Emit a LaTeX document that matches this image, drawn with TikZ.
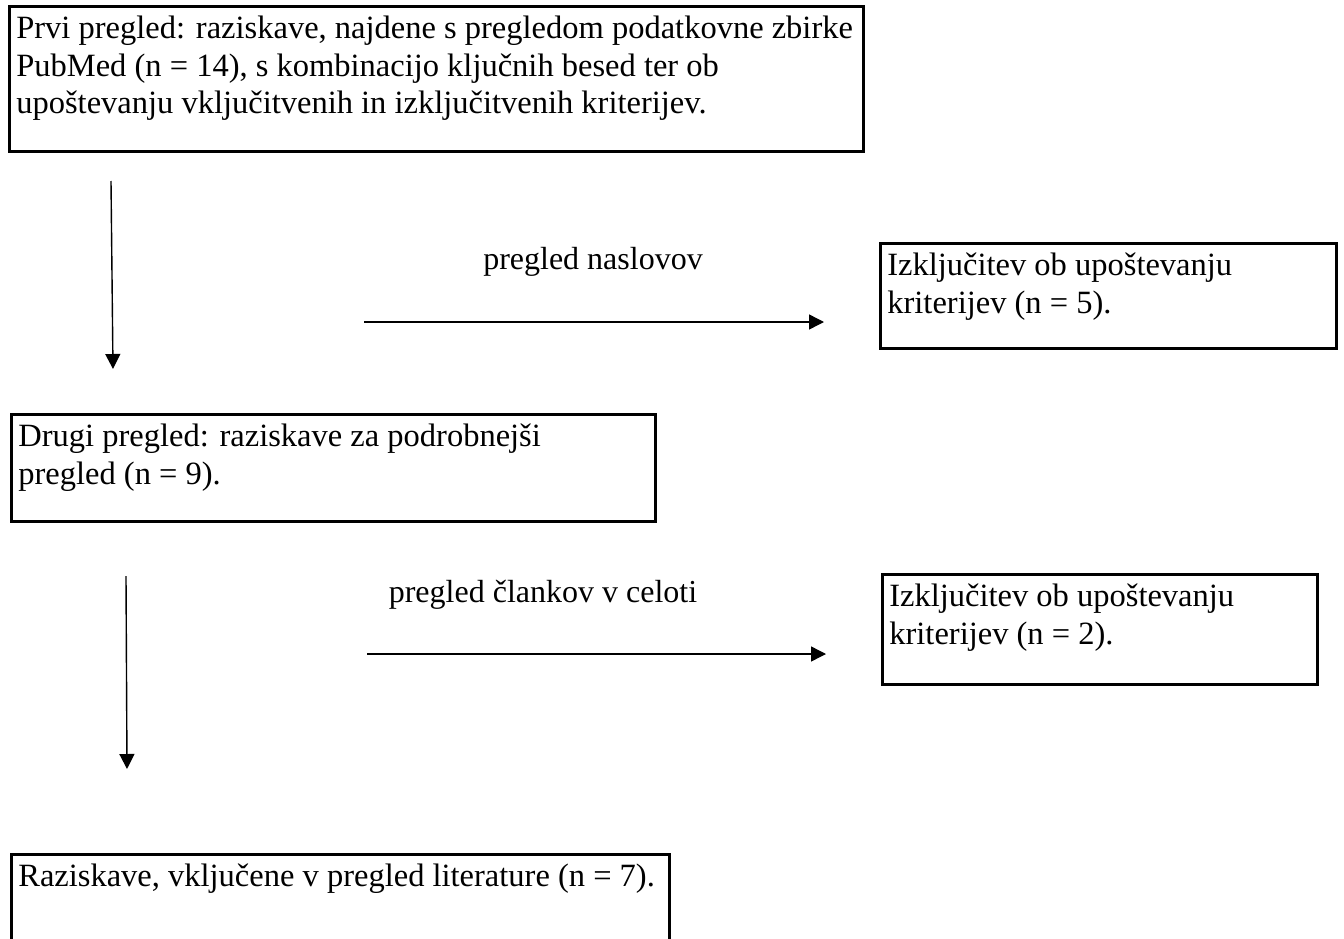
\documentclass[tikz,border=0pt]{standalone}
\usepackage{fontspec}
\setmainfont{Liberation Serif}
\usetikzlibrary{arrows.meta}
\newcommand\boxtxt[3]{\parbox[t][#2][t]{#1}{\raggedright #3}}
\begin{document}
\begin{tikzpicture}[x=1pt,y=-1pt,font=\fontsize{32.5}{37.5}\selectfont,
  box/.style={draw,line width=2.7pt,anchor=north west,inner xsep=7pt,inner ysep=10pt},
  lbl/.style={inner sep=0pt,font=\fontsize{32}{37}\selectfont},
  flow/.style={line width=1.4pt,-{Triangle[length=15pt,width=15pt]}}]
\useasboundingbox (0,0) rectangle (1344,939);
\clip (0,0) rectangle (1344,939);

\node[box] (b1) at (8,5) {\boxtxt{840pt}{125pt}{\mbox{Prvi pregled: raziskave, najdene s pregledom podatkovne zbirke}\\\mbox{PubMed (n = 14), s kombinacijo ključnih besed ter ob}\\\mbox{upoštevanju vključitvenih in izključitvenih kriterijev.}}};

\node[box] (e1) at (879,242) {\boxtxt{442pt}{85pt}{\mbox{Izključitev ob upoštevanju}\\\mbox{kriterijev (n = 5).}}};

\node[box] (b2) at (10,413) {\boxtxt{630pt}{87pt}{\mbox{Drugi pregled: raziskave za podrobnejši}\\\mbox{pregled (n = 9).}}};

\node[box] (e2) at (881,573) {\boxtxt{421pt}{90pt}{\mbox{Izključitev ob upoštevanju}\\\mbox{kriterijev (n = 2).}}};

\node[box] (b3) at (10,853) {\boxtxt{644pt}{100pt}{\mbox{Raziskave, vključene v pregled literature (n = 7).}}};

\node[lbl] (l1) at (593,262) {pregled naslovov};
\node[lbl] (l2) at (543,595) {pregled člankov v celoti};

\coordinate (v1s) at (111,181);
\coordinate (v1e) at (113,369);
\coordinate (v2s) at (126,576);
\coordinate (v2e) at (127,769);
\coordinate (h1s) at (364,322);
\coordinate (h1e) at (824,322);
\coordinate (h2s) at (367,654);
\coordinate (h2e) at (826,654);

\draw[flow] (v1s) -- (v1e);
\draw[flow] (v2s) -- (v2e);
\draw[flow] (h1s) -- (h1e);
\draw[flow] (h2s) -- (h2e);
\end{tikzpicture}
\end{document}
